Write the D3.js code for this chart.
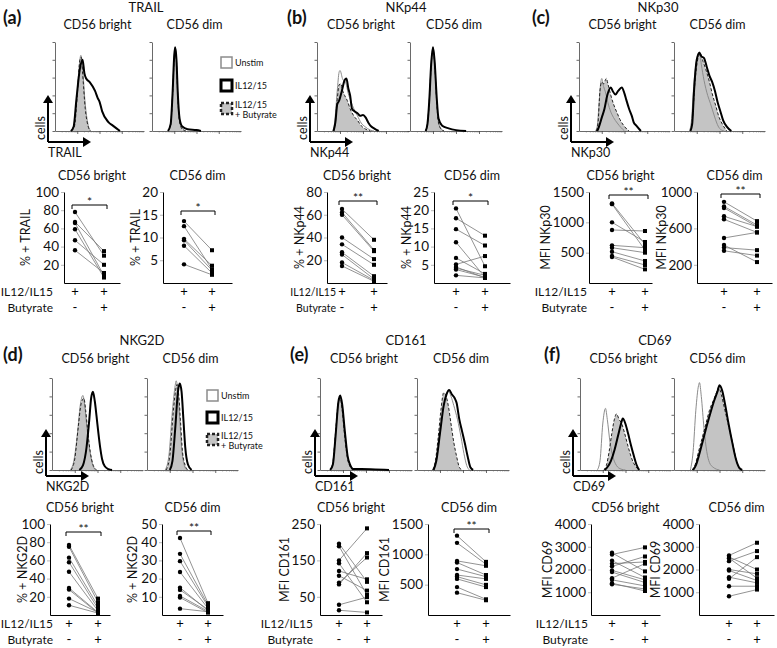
<!DOCTYPE html>
<html>
<head>
<meta charset="utf-8">
<script src="https://cdn.jsdelivr.net/npm/d3@7"></script>
<style>
  body { margin: 0; background: #fff; }
  text { font-family: Lato, "Open Sans", sans-serif; fill: #111; }
</style>
</head>
<body>
<svg id="fig" width="777" height="648"></svg>
<script>
// ---- labels ----
const panelLetters = ["(a)", "(b)", "(c)", "(d)", "(e)", "(f)"];
const markers = ["TRAIL", "NKp44", "NKp30", "NKG2D", "CD161", "CD69"];
const yLabels = ["% + TRAIL", "% + NKp44", "MFI NKp30", "% + NKG2D", "MFI CD161", "MFI CD69"];
const subsets = ["CD56 bright", "CD56 dim"];
const conditions = ["Unstim", "IL12/15", "IL12/15", "+ Butyrate"];
const signif = [["*", "*"], ["**", "*"], ["**", "**"], ["**", "**"], ["", "**"], ["", ""]];

// ---- paired plot axes ----
const yMax = [[100, 20], [80, 25], [1500, 1000], [100, 50], [250, 1500], [4000, 4000]];
const yTicks = [
  [[20, 40, 60, 80, 100], [5, 10, 15, 20]],
  [[20, 40, 60, 80], [5, 10, 15, 20, 25]],
  [[500, 1000, 1500], [200, 600, 1000]],
  [[20, 40, 60, 80, 100], [10, 20, 30, 40, 50]],
  [[50, 150, 250], [500, 1000, 1500]],
  [[1000, 2000, 3000, 4000], [1000, 2000, 3000, 4000]]
];

// ---- paired values (IL12/IL15 vs IL12/IL15 + butyrate) ----
const trailBrightPre  = [78, 67, 66, 59, 47, 36];
const trailBrightPost = [30, 35, 8, 6, 20, 11];
const trailDimPre  = [13.6, 12.5, 9.7, 9.4, 8.2, 4.1];
const trailDimPost = [7.2, 3.0, 3.8, 2.8, 2.2, 1.8];

const nkp44BrightPre  = [65, 62, 60, 40, 34, 27, 25, 18, 15];
const nkp44BrightPost = [38, 29, 28, 21, 16, 6, 3.5, 2.4, 1.5];
const nkp44DimPre  = [20.5, 17.8, 14.8, 11.2, 6.9, 5.1, 4.4, 4.1, 3.7, 2.1];
const nkp44DimPost = [4.6, 13, 10.3, 1.6, 2.5, 7.4, 1.4, 2.1, 1.6, 1.4];

const nkp30BrightPre  = [1313, 1300, 1000, 874, 621, 582, 516, 445, 429];
const nkp30BrightPost = [637, 544, 676, 857, 582, 500, 363, 297, 225];
const nkp30DimPre  = [892, 842, 825, 733, 700, 495, 417, 389, 354];
const nkp30DimPost = [680, 637, 620, 620, 556, 556, 230, 361, 301];

const nkg2dBrightPre  = [77, 75, 63, 58, 47.5, 29.6, 27.9, 18, 10.7];
const nkg2dBrightPost = [18, 14, 10, 7, 4.6, 2.9, 2.1, 3, 2.1];
const nkg2dDimPre  = [42.3, 33.6, 29.6, 23.6, 15, 13.8, 10.5, 9.6, 3.5];
const nkg2dDimPost = [6.5, 5.5, 4.7, 3.6, 2.4, 3, 2, 1.3, 1.8];

const cd161BrightPre  = [196, 189, 150, 142, 121, 108, 89, 84, 28, 13];
const cd161BrightPost = [91, 55, 238, 35, 98, 67, 158, 170, 49, 7];
const cd161DimPre  = [1308, 1189, 892, 865, 757, 659, 632, 595, 460, 368];
const cd161DimPost = [876, 838, 811, 659, 632, 595, 497, 460, 259, 243];

const cd69BrightPre  = [2734, 2660, 2392, 2258, 2139, 1961, 1887, 1620, 1545, 1352, 1400];
const cd69BrightPost = [1917, 2972, 1649, 2333, 2571, 1545, 1426, 2258, 1278, 1144, 1055];
const cd69DimPre  = [2618, 2500, 2368, 2000, 1956, 1662, 1588, 1265, 824, 2550];
const cd69DimPost = [3176, 1618, 2809, 1809, 1515, 1412, 2544, 1265, 1118, 2000];

// ---- histogram traces: [intensity % of axis, cells % of axis height] ----
const trailBrightUnstim = [[17,0],[21,5],[24,30],[27,70],[29,85],[31,70],[34,30],[37,8],[40,0]];
const trailBrightIl = [[18,0],[21,5],[24,35],[28,70],[31,80],[33,65],[35,59],[39,55],[45,45],[48,37],[50,33],[53,22],[60,10],[65,6],[73,0]];
const trailBrightBut = [[18,0],[22,6],[25,40],[28,80],[29.5,83],[31,65],[34,25],[37,6],[40,0]];
const trailDimUnstim = [[18,0],[21,8],[23,40],[25,85],[26,94],[27.5,80],[29,40],[31,12],[34,3],[38,0]];
const trailDimIl = [[18,0],[21,8],[23,40],[25,85],[26,94],[27.5,80],[29,42],[31,14],[34,5],[40,2],[50,1],[55,0]];
const trailDimBut = [[18,0],[21,7],[23,38],[25,82],[26,92],[27.5,78],[29,38],[31,10],[34,2],[38,0]];

const nkp44BrightUnstim = [[17,0],[19,8],[22,45],[24,66],[25,68],[28,58],[31,55],[34,42],[37,33],[40,25],[44,17],[48,9],[52,5],[58,1],[62,0]];
const nkp44BrightIl = [[18,0],[20,10],[22,30],[24,34],[27,45],[30,57],[32,59],[34,48],[36,40],[38,25],[41,22],[44,20],[47,17],[50,18],[53,15],[56,9],[59,5],[62,3],[67,0]];
const nkp44BrightBut = [[18,0],[20,10],[22,35],[24,52],[26,53],[28,45],[30,40],[33,34],[36,25],[40,17],[44,12],[48,6],[53,2],[58,0]];
const nkp44DimUnstim = [[17,0],[19,8],[21,35],[23,75],[25,94],[27,75],[29,35],[31,10],[34,2],[37,0]];
const nkp44DimIl = [[17,0],[19,8],[21,35],[23,75],[25,94],[27,75],[29,38],[31,14],[35,6],[42,3],[50,1],[61,0]];
const nkp44DimBut = [[17,0],[19,8],[21,34],[23,73],[25,92],[27,72],[29,33],[31,9],[34,2],[37,0]];

const nkp30BrightUnstim = [[18,0],[20,5],[22,30],[24,55],[25,59],[27,50],[29,44],[31,35],[34,24],[38,15],[42,9],[46,4],[50,0]];
const nkp30BrightIl = [[20,0],[22,5],[25,15],[28,25],[31,40],[35,49],[37,45],[40,41],[43,45],[47,49],[50,42],[52,35],[55,25],[58,17],[60,10],[63,6],[68,0]];
const nkp30BrightBut = [[19,0],[21,10],[23,45],[25,55],[27,53],[30,59],[32,52],[35,40],[38,30],[42,20],[45,13],[50,5],[55,0]];
const nkp30DimUnstim = [[17,0],[19,10],[22,55],[25,80],[28,89],[30,75],[33,57],[37,40],[40,31],[44,18],[47,9],[50,3],[55,0]];
const nkp30DimIl = [[18,0],[20,8],[22,45],[25,80],[28,88],[30,84],[33,82],[36,72],[39,62],[42,55],[45,45],[48,32],[51,22],[54,12],[58,5],[63,0]];
const nkp30DimBut = [[18,0],[20,10],[23,55],[26,80],[29,87],[32,78],[35,69],[39,55],[42,42],[46,28],[49,17],[53,8],[58,0]];

const nkg2dBrightUnstim = [[20,0],[24,10],[28,40],[31,70],[34,81],[36,70],[38,50],[41,25],[44,8],[48,0]];
const nkg2dBrightIl = [[30,0],[34,5],[38,25],[41,55],[43,78],[45,85],[47,75],[49,58],[51,40],[53,24],[55,12],[58,4],[62,1],[66,0]];
const nkg2dBrightBut = [[21,0],[25,12],[29,48],[32,72],[35,78],[37,65],[39,45],[42,20],[45,6],[49,0]];
const nkg2dDimUnstim = [[20,0],[24,15],[28,65],[31,92],[32,97],[34,85],[36,55],[38,25],[41,5],[44,0]];
const nkg2dDimIl = [[25,0],[28,10],[31,45],[34,85],[36,94],[38,85],[40,55],[42,25],[45,6],[49,0]];
const nkg2dDimBut = [[21,0],[25,15],[29,65],[32,90],[33,93],[35,80],[37,50],[39,20],[42,5],[45,0]];

const cd161BrightUnstim = [[11,0],[14,8],[17,40],[20,72],[22,79],[24,70],[27,40],[30,15],[33,4],[36,0]];
const cd161BrightIl = [[11,0],[14,6],[17,38],[20,74],[22,81],[24,72],[27,42],[30,15],[33,5],[36,1],[45,1],[60,0.5],[75,0]];
const cd161BrightBut = [[11,0],[14,8],[17,42],[20,74],[22,78],[24,66],[27,35],[30,12],[33,3],[36,0]];
const cd161DimUnstim = [[18,0],[21,10],[25,40],[29,70],[32,83],[34,86],[37,80],[40,70],[44,55],[48,35],[51,18],[54,5],[57,0]];
const cd161DimIl = [[18,0],[21,10],[25,40],[29,70],[32,82],[35,87],[38,82],[41,78],[43,73],[46,55],[49,42],[52,29],[55,15],[58,3],[61,0]];
const cd161DimBut = [[17,0],[20,10],[23,35],[26,65],[29,84],[31,82],[34,70],[37,50],[40,30],[43,15],[46,3],[49,0]];

const cd69BrightUnstim = [[19,0],[22,10],[25,50],[28,67],[30,55],[33,30],[36,15],[40,5],[45,1],[50,0]];
const cd69BrightIl = [[27,0],[30,3],[34,10],[38,22],[42,38],[45,50],[47,56],[50,50],[53,39],[56,27],[59,16],[62,6],[65,0]];
const cd69BrightBut = [[26,0],[29,5],[32,20],[35,40],[38,56],[40,61],[43,55],[46,50],[49,40],[53,25],[57,12],[61,4],[65,0]];
const cd69DimUnstim = [[18,0],[21,20],[24,65],[27,92],[28,95],[30,80],[33,45],[36,20],[39,8],[43,3],[50,0]];
const cd69DimIl = [[21,0],[24,5],[28,18],[32,33],[36,48],[40,62],[44,75],[48,86],[50,92],[53,86],[56,72],[60,50],[64,30],[68,12],[72,2],[75,0]];
const cd69DimBut = [[20,0],[24,8],[27,20],[31,35],[35,50],[39,65],[43,75],[47,85],[49,90],[52,82],[55,69],[60,48],[64,31],[68,13],[71,3],[74,0]];

const pairedData = [
  [[trailBrightPre, trailBrightPost], [trailDimPre, trailDimPost]],
  [[nkp44BrightPre, nkp44BrightPost], [nkp44DimPre, nkp44DimPost]],
  [[nkp30BrightPre, nkp30BrightPost], [nkp30DimPre, nkp30DimPost]],
  [[nkg2dBrightPre, nkg2dBrightPost], [nkg2dDimPre, nkg2dDimPost]],
  [[cd161BrightPre, cd161BrightPost], [cd161DimPre, cd161DimPost]],
  [[cd69BrightPre, cd69BrightPost], [cd69DimPre, cd69DimPost]]
];
const histData = [
  [[trailBrightUnstim, trailBrightIl, trailBrightBut], [trailDimUnstim, trailDimIl, trailDimBut]],
  [[nkp44BrightUnstim, nkp44BrightIl, nkp44BrightBut], [nkp44DimUnstim, nkp44DimIl, nkp44DimBut]],
  [[nkp30BrightUnstim, nkp30BrightIl, nkp30BrightBut], [nkp30DimUnstim, nkp30DimIl, nkp30DimBut]],
  [[nkg2dBrightUnstim, nkg2dBrightIl, nkg2dBrightBut], [nkg2dDimUnstim, nkg2dDimIl, nkg2dDimBut]],
  [[cd161BrightUnstim, cd161BrightIl, cd161BrightBut], [cd161DimUnstim, cd161DimIl, cd161DimBut]],
  [[cd69BrightUnstim, cd69BrightIl, cd69BrightBut], [cd69DimUnstim, cd69DimIl, cd69DimBut]]
];

// ---- layout ----
const rows = [
  { title: 12, sub: 29, letter: 24, hTop: 42, hBot: 131, arrowY: 142, psub: 180, pTop: 192, pZero: 283, legX: 221, legY: 57, legStep: 23 },
  { title: 345, sub: 363, letter: 361, hTop: 378, hBot: 470, arrowY: 476, psub: 512, pTop: 524, pZero: 615, legX: 207, legY: 390, legStep: 22 }
];
// lab = centre of the rotated y-axis label
const layout = [
  { row: 0, hx: [55, 152], hw: 89, titleX: 146, letterX: 3, arrowX: 48, condEnd: 53, condSize: 12,
    p: [{ ax: 64, p1: 75, p2: 104, end: 120, br: 13, lab: 25 }, { ax: 163, p1: 184, p2: 212, end: 232, br: 19, lab: 142 }] },
  { row: 0, hx: [317, 410], hw: 92, titleX: 406, letterX: 287, arrowX: 310, condEnd: 336, condSize: 10.5,
    p: [{ ax: 327, p1: 342, p2: 374, end: 387, br: 9, lab: 300 }, { ax: 434, p1: 456, p2: 485, end: 510, br: 9, lab: 412 }] },
  { row: 0, hx: [579, 674], hw: 91, titleX: 658, letterX: 532, arrowX: 571, condEnd: 587, condSize: 12,
    p: [{ ax: 589, p1: 612, p2: 645, end: 652, br: 3, lab: 552 }, { ax: 697, p1: 724, p2: 757, end: 772, br: 2, lab: 672 }] },
  { row: 1, hx: [52, 147], hw: 91, titleX: 142, letterX: 3, arrowX: 46, condEnd: 53, condSize: 12,
    p: [{ ax: 50, p1: 69, p2: 98, end: 110, br: 8, lab: 22 }, { ax: 162, p1: 180, p2: 208, end: 223, br: 7, lab: 132 }] },
  { row: 1, hx: [320, 417], hw: 92, titleX: 406, letterX: 290, arrowX: 315, condEnd: 313, condSize: 12,
    p: [{ ax: 320, p1: 339, p2: 367, end: 382, br: 0, lab: 288 }, { ax: 428, p1: 457, p2: 486, end: 510, br: 5, lab: 401 }] },
  { row: 1, hx: [580, 674], hw: 91, titleX: 655, letterX: 544, arrowX: 573, condEnd: 588, condSize: 12,
    p: [{ ax: 591, p1: 612, p2: 645, end: 660, br: 0, lab: 553 }, { ax: 699, p1: 729, p2: 757, end: 774, br: 0, lab: 667 }] }
];

const svg = d3.select("#fig");
const fillGray = "#c4c4c4";
const tickFont = "'Liberation Sans Narrow', 'DejaVu Sans Condensed', Lato, sans-serif";

function drawHist(g, x0, w, top, bot, curves) {
  const xs = d3.scaleLinear().domain([0, 100]).range([x0, x0 + w]);
  const ys = d3.scaleLinear().domain([0, 100]).range([bot, top]);
  const line = d3.line().x(d => xs(d[0])).y(d => ys(d[1])).curve(d3.curveMonotoneX);
  const area = d3.area().x(d => xs(d[0])).y0(bot).y1(d => ys(d[1])).curve(d3.curveMonotoneX);

  // log-style intensity ticks along the bottom
  const lx = d3.scaleLog().domain([10, 1e5]).range([x0, x0 + w]);
  const minor = lx.ticks().filter(v => Math.log10(v) % 1 !== 0);
  const major = [100, 1000, 10000];
  g.append("g").attr("transform", `translate(0,${bot})`)
    .call(d3.axisBottom(lx).tickValues(minor).tickSize(1.5).tickFormat("").tickSizeOuter(0))
    .call(a => a.selectAll("line").attr("stroke", "#666").attr("stroke-width", 0.5))
    .call(a => a.select(".domain").attr("stroke", "#444").attr("stroke-width", 0.8));
  g.append("g").attr("transform", `translate(0,${bot})`)
    .call(d3.axisBottom(lx).tickValues(major).tickSize(3).tickFormat(""))
    .call(a => a.select(".domain").remove())
    .call(a => a.selectAll("line").attr("stroke", "#444").attr("stroke-width", 0.8));
  g.append("g").attr("transform", `translate(${x0},0)`)
    .call(d3.axisLeft(ys).tickValues([0, 20, 40, 60, 80, 100]).tickSize(2.5).tickFormat("").tickSizeOuter(0))
    .call(a => a.select(".domain").attr("stroke", "#444").attr("stroke-width", 0.8))
    .call(a => a.selectAll("line").attr("stroke", "#444").attr("stroke-width", 0.8));

  const [unstim, il, but] = curves;
  g.append("path").datum(but).attr("d", area).attr("fill", fillGray);
  g.append("path").datum(unstim).attr("d", line).attr("fill", "none").attr("stroke", "#8c8c8c").attr("stroke-width", 1);
  g.append("path").datum(but).attr("d", line).attr("fill", "none").attr("stroke", "#222")
    .attr("stroke-width", 1).attr("stroke-dasharray", "3,2");
  g.append("path").datum(il).attr("d", line).attr("fill", "none").attr("stroke", "#000").attr("stroke-width", 2);
}

function drawPaired(g, c, r, vals, max, ticks, ylab, star) {
  const ys = d3.scaleLinear().domain([0, max]).range([r.pZero, r.pTop]);
  const xs = d3.scalePoint().domain(["pre", "post"]).range([c.p1, c.p2]);
  const ya = g.append("g").attr("transform", `translate(${c.ax},0)`)
    .call(d3.axisLeft(ys).tickValues(ticks).tickFormat(d3.format("d")).tickSize(3).tickPadding(2).tickSizeOuter(0))
    .call(a => a.select(".domain").attr("stroke", "#000").attr("stroke-width", 1));
  ya.selectAll("text").attr("font-size", 13.5).attr("font-family", tickFont).attr("fill", "#111");
  ya.selectAll("line").attr("stroke", "#888").attr("stroke-width", 0.6);
  // x baseline
  g.append("g").attr("transform", `translate(0,${r.pZero})`)
    .call(d3.axisBottom(d3.scaleLinear().range([c.ax, c.end])).tickValues([]).tickSizeOuter(0))
    .call(a => a.select(".domain").attr("stroke", "#000").attr("stroke-width", 1));

  // y label: reference position, kept clear of tick labels at the same height
  const midY = (r.pTop + r.pZero) / 2;
  const lab = g.append("text").attr("text-anchor", "middle").attr("font-size", 12.5).text(ylab);
  const half = lab.node().getComputedTextLength() / 2;
  let clear = Infinity;
  ya.selectAll(".tick").each(function (d) {
    const y = ys(d);
    if (y > midY - half - 6 && y < midY + half + 6) {
      clear = Math.min(clear, this.querySelector("text").getBBox().x + c.ax);
    }
  });
  const lx = Math.min(c.lab, clear - 7);
  lab.attr("transform", `translate(${lx + 4.5},${midY}) rotate(-90)`);

  const [pre, post] = vals;
  g.selectAll(null).data(pre).join("line")
    .attr("x1", xs("pre")).attr("y1", d => ys(d))
    .attr("x2", xs("post")).attr("y2", (d, i) => ys(post[i]))
    .attr("stroke", "#777").attr("stroke-width", 0.8);
  g.selectAll(null).data(pre).join("circle")
    .attr("cx", xs("pre")).attr("cy", d => ys(d)).attr("r", 2.2).attr("fill", "#000");
  g.selectAll(null).data(post).join("rect")
    .attr("x", xs("post") - 2).attr("y", d => ys(d) - 2).attr("width", 4).attr("height", 4).attr("fill", "#000");

  if (star) {
    const by = r.pTop + c.br;
    g.append("path")
      .attr("d", `M${xs("pre") - 3},${by + 4}V${by}H${xs("post") + 3}V${by + 4}`)
      .attr("fill", "none").attr("stroke", "#000").attr("stroke-width", 1);
    g.append("text").attr("x", (xs("pre") + xs("post")) / 2).attr("y", by + 1)
      .attr("text-anchor", "middle").attr("font-size", 12).text(star);
  }
  // condition signs
  const signs = [["+", "+"], ["-", "+"]];
  signs.forEach((s, k) => {
    [xs("pre"), xs("post")].forEach((x, j) => {
      g.append("text").attr("x", x).attr("y", r.pZero + 13 + k * 16)
        .attr("text-anchor", "middle").attr("font-size", 13)
        .style("fill", "#000").text(s[j]);
    });
  });
  return xs;
}

function arrow(g, x, y) {
  const up = 47, right = 43;
  g.append("path").attr("d", `M${x},${y}V${y - up + 6}M${x},${y}H${x + right - 6}`)
    .attr("stroke", "#000").attr("stroke-width", 2).attr("fill", "none");
  g.append("path").attr("d", `M${x - 5},${y - up + 8}L${x},${y - up}L${x + 5},${y - up + 8}Z`).attr("fill", "#000");
  g.append("path").attr("d", `M${x + right - 8},${y - 5}L${x + right},${y}L${x + right - 8},${y + 5}Z`).attr("fill", "#000");
}

layout.forEach((c, i) => {
  const r = rows[c.row];
  const g = svg.append("g");
  g.append("text").attr("x", c.letterX).attr("y", r.letter).attr("font-size", 18).attr("font-weight", 700).text(panelLetters[i]);
  g.append("text").attr("x", c.titleX).attr("y", r.title).attr("text-anchor", "middle").attr("font-size", 13).text(markers[i]);

  [0, 1].forEach(s => {
    const hx = c.hx[s];
    g.append("text").attr("x", hx + c.hw / 2 - 2).attr("y", r.sub).attr("text-anchor", "middle")
      .attr("font-size", 12.5).text(subsets[s]);
    drawHist(g, hx, c.hw, r.hTop, r.hBot, histData[i][s]);

    const pc = c.p[s];
    g.append("text").attr("x", (pc.ax + pc.end) / 2).attr("y", r.psub).attr("text-anchor", "middle")
      .attr("font-size", 12.5).text(subsets[s]);
    drawPaired(g, pc, r, pairedData[i][s], yMax[i][s], yTicks[i][s], yLabels[i], signif[i][s]);
  });

  // IL12/IL15 and Butyrate row labels
  g.append("text").attr("x", c.condEnd).attr("y", r.pZero + 13).attr("text-anchor", "end")
    .attr("font-size", c.condSize).text("IL12/IL15");
  g.append("text").attr("x", c.condEnd).attr("y", r.pZero + 29).attr("text-anchor", "end")
    .attr("font-size", c.condSize).text("Butyrate");

  // cells / marker arrow
  arrow(g, c.arrowX, r.arrowY);
  g.append("text").attr("transform", `translate(${c.arrowX - 3},${r.arrowY - 14}) rotate(-90)`)
    .attr("text-anchor", "middle").attr("font-size", 12.5).text("cells");
  g.append("text").attr("x", c.arrowX).attr("y", r.arrowY + 15).attr("font-size", 12.5).text(markers[i]);
});

// legends (rows a and d)
rows.forEach(r => {
  const g = svg.append("g");
  const styles = [
    { stroke: "#8c8c8c", sw: 1.5, fill: "#fff", dash: null },
    { stroke: "#000", sw: 3, fill: "#fff", dash: null },
    { stroke: "#222", sw: 2.5, fill: fillGray, dash: "3,2" }
  ];
  styles.forEach((st, k) => {
    const y = r.legY + k * r.legStep;
    g.append("rect").attr("x", r.legX).attr("y", y).attr("width", 11).attr("height", 11)
      .attr("fill", st.fill).attr("stroke", st.stroke).attr("stroke-width", st.sw)
      .attr("stroke-dasharray", st.dash);
  });
  g.append("text").attr("x", r.legX + 14).attr("y", r.legY + 9).attr("font-size", 9).text(conditions[0]);
  g.append("text").attr("x", r.legX + 14).attr("y", r.legY + r.legStep + 9).attr("font-size", 9).text(conditions[1]);
  g.append("text").attr("x", r.legX + 14).attr("y", r.legY + 2 * r.legStep + 5).attr("font-size", 9).text(conditions[2]);
  g.append("text").attr("x", r.legX + 14).attr("y", r.legY + 2 * r.legStep + 15).attr("font-size", 9).text(conditions[3]);
});
</script>
</body>
</html>
